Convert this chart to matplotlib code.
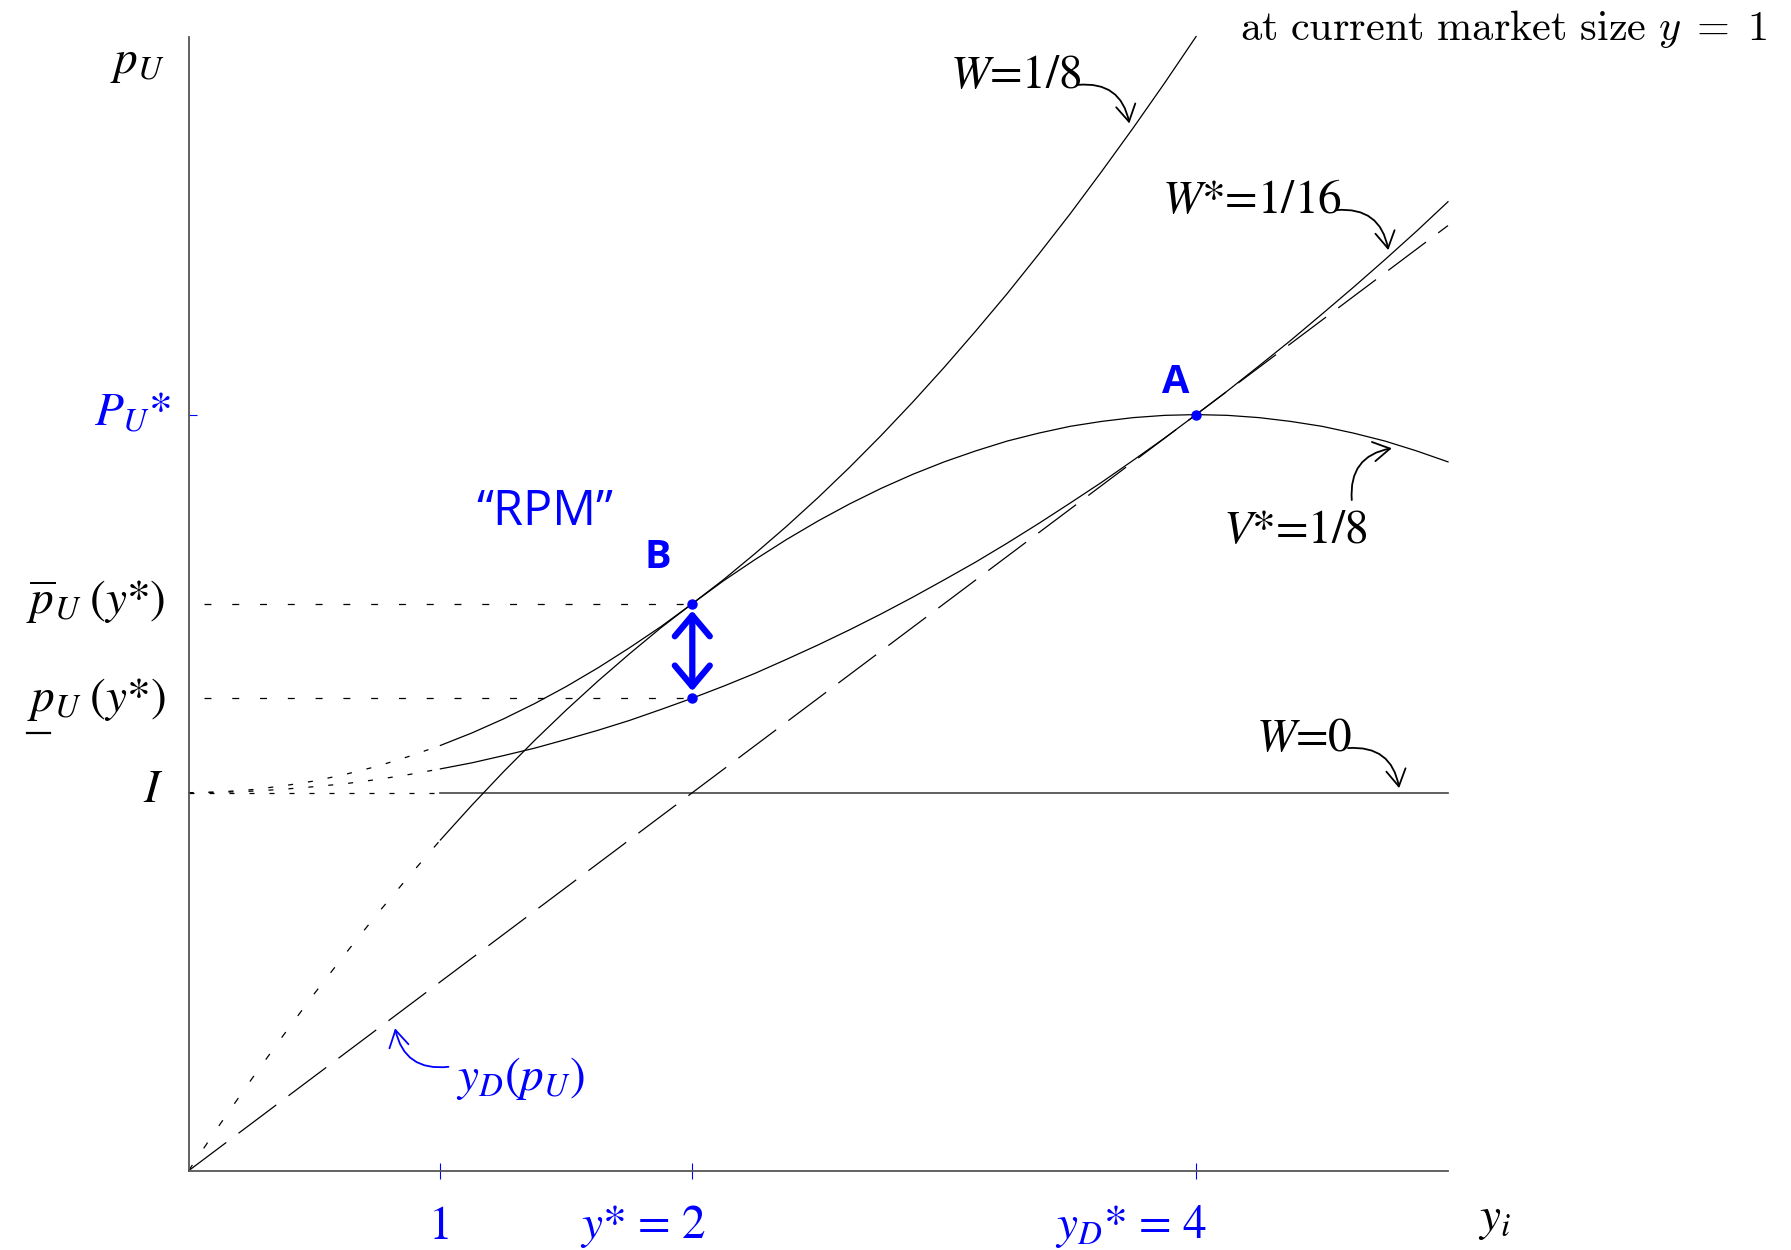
import matplotlib.pyplot as plt

plt.rcParams['mathtext.fontset'] = 'stix'
plt.rcParams['lines.scale_dashes'] = False

BLUE = '#0000ff'
SERIF = 'STIXGeneral'
SANS = 'Open Sans'
FS = 34

# market size y_i: dotted stretch up to y = 1, solid beyond
y_left = [0.0, 0.125, 0.25, 0.375, 0.5, 0.625, 0.75, 0.875, 1.0]
y_right = [1.0, 1.125, 1.25, 1.375, 1.5, 1.625, 1.75, 1.875,
           2.0, 2.125, 2.25, 2.375, 2.5, 2.625, 2.75, 2.875,
           3.0, 3.125, 3.25, 3.375, 3.5, 3.625, 3.75, 3.875,
           4.0, 4.125, 4.25, 4.375, 4.5, 4.625, 4.75, 4.875, 5.0]

# iso curves in (y_i, p_U)
w8_left = [1.0, 1.002, 1.008, 1.018, 1.031, 1.049, 1.070, 1.096, 1.125]
w8_right = [1.125, 1.158, 1.195, 1.236, 1.281, 1.330, 1.383, 1.439,
            1.5, 1.564, 1.633, 1.705, 1.781, 1.861, 1.945, 2.033,
            2.125, 2.221, 2.320, 2.424, 2.531, 2.643, 2.758, 2.877, 3.0]
w16_left = [1.0, 1.001, 1.004, 1.009, 1.016, 1.024, 1.035, 1.048, 1.063]
w16_right = [1.063, 1.079, 1.098, 1.118, 1.141, 1.165, 1.191, 1.220,
             1.25, 1.282, 1.316, 1.353, 1.391, 1.431, 1.473, 1.517,
             1.563, 1.610, 1.660, 1.712, 1.766, 1.821, 1.879, 1.938,
             2.0, 2.063, 2.129, 2.196, 2.266, 2.337, 2.410, 2.485, 2.563]
v8_left = [0.0, 0.123, 0.242, 0.357, 0.469, 0.576, 0.680, 0.779, 0.875]
v8_right = [0.875, 0.967, 1.055, 1.139, 1.219, 1.295, 1.367, 1.436,
            1.5, 1.561, 1.617, 1.670, 1.719, 1.764, 1.805, 1.842,
            1.875, 1.904, 1.930, 1.951, 1.969, 1.982, 1.992, 1.998,
            2.0, 1.998, 1.992, 1.982, 1.969, 1.951, 1.930, 1.904, 1.875]

# downstream demand y_D(p_U)
yd_y = [0.0, 5.0]
yd_p = [0.0, 2.5]

I_LEVEL = 1.0
Y_ONE = 1.0
Y_STAR = 2.0
YD_STAR = 4.0
P_BAR = 1.5
P_LOW = 1.25
P_STAR = 2.0


def curlyArrow(Tail_Xy, Tip_Xy, Color='black'):
    ax.annotate('', xy=Tip_Xy, xytext=Tail_Xy, annotation_clip=False,
                arrowprops=dict(arrowstyle='->,head_length=0.6,head_width=0.35',
                                connectionstyle='arc3,rad=-0.45',
                                color=Color, lw=1.3, mutation_scale=20,
                                shrinkA=0, shrinkB=0))


fig = plt.figure(figsize=(17.91, 12.5), dpi=100)
ax = fig.add_axes([0.10525, 0.06336, 0.70324, 0.90744])
ax.set_xlim(0, 5)
ax.set_ylim(0, 3)
for side in ['top', 'right']:
    ax.spines[side].set_visible(False)
for side in ['left', 'bottom']:
    ax.spines[side].set_color('#555555')
    ax.spines[side].set_linewidth(1.3)
ax.set_xticks([Y_ONE, Y_STAR, YD_STAR])
ax.set_xticklabels(['', '', ''])
ax.set_yticks([P_STAR])
ax.set_yticklabels([''])
ax.tick_params(axis='x', direction='inout', length=11, width=0.8, color=BLUE)
ax.tick_params(axis='y', direction='in', length=6, width=0.8, color=BLUE)

short_dots = (0, (3.6, 10.8))
sparse_dots = (0, (5, 14.5))
guide_dash = (0, (5, 15))
long_dash = (0, (34, 11))

# W = 0 : the I level
ax.plot([0, Y_ONE], [I_LEVEL, I_LEVEL], color='black', lw=0.9, ls=short_dots)
ax.plot([Y_ONE, 5], [I_LEVEL, I_LEVEL], color='#444444', lw=1.2)

# W = 1/8
ax.plot(y_left, w8_left, color='black', lw=0.9, ls=short_dots)
ax.plot(y_right[:len(w8_right)], w8_right, color='black', lw=0.9)

# W* = 1/16
ax.plot(y_left, w16_left, color='black', lw=0.9, ls=short_dots)
ax.plot(y_right, w16_right, color='black', lw=0.9)

# V* = 1/8
ax.plot(y_left, v8_left, color='black', lw=0.9, ls=sparse_dots)
ax.plot(y_right, v8_right, color='black', lw=0.9)

# y_D(p_U)
ax.plot(yd_y, yd_p, color='black', lw=0.9, ls=long_dash)

# price guides at y*
ax.plot([0.06, Y_STAR], [P_BAR, P_BAR], color='black', lw=0.9, ls=guide_dash)
ax.plot([0.06, Y_STAR], [P_LOW, P_LOW], color='black', lw=0.9, ls=guide_dash)

for line in ax.lines:
    line.set_clip_on(False)
    line.set_solid_joinstyle('round')

# points A and B and the RPM range
ax.annotate('', xy=(Y_STAR, P_LOW), xytext=(Y_STAR, P_BAR),
            arrowprops=dict(arrowstyle='<->,head_length=0.5,head_width=0.42',
                            color=BLUE, lw=4.5, mutation_scale=30,
                            shrinkA=5, shrinkB=5, capstyle='round',
                            joinstyle='round'))
ax.plot([Y_STAR, Y_STAR, YD_STAR], [P_BAR, P_LOW, P_STAR], 'o', color=BLUE,
        ms=6.5, clip_on=False, zorder=5)
ax.text(1.862, 1.594, 'B', color=BLUE, fontsize=28.5, fontweight='bold',
        family=SANS, ha='center', va='baseline')
ax.text(3.918, 2.058, 'A', color=BLUE, fontsize=28.5, fontweight='bold',
        family=SANS, ha='center', va='baseline')
ax.text(1.415, 1.707, '\u201cRPM\u201d', color=BLUE, fontsize=35,
        family=SANS, ha='center', va='baseline')

# curve labels
ax.text(3.023, 2.864, '$W$=1/8', fontsize=FS, family=SERIF, va='baseline')
curlyArrow((3.530, 2.872), (3.735, 2.770))
ax.text(3.863, 2.534, '$W$*=1/16', fontsize=FS, family=SERIF, va='baseline')
curlyArrow((4.557, 2.541), (4.763, 2.435))
ax.text(4.108, 1.660, '$V$*=1/8', fontsize=FS, family=SERIF, va='baseline')
curlyArrow((4.618, 1.774), (4.777, 1.911))
ax.text(4.238, 1.109, '$W$=0', fontsize=FS, family=SERIF, va='baseline')
curlyArrow((4.603, 1.118), (4.806, 1.012))
ax.text(1.063, 0.214, '$y_D(p_U)$', fontsize=FS, family=SERIF, color=BLUE,
        va='baseline')
curlyArrow((1.032, 0.275), (0.820, 0.377), Color=BLUE)

# axis labels
ax.text(-0.093, 2.903, '$p_U$', fontsize=FS, family=SERIF, ha='right',
        va='baseline')
ax.text(5.12, -0.157, '$y_i$', fontsize=FS, family=SERIF, ha='left',
        va='baseline')
ax.text(-0.069, 1.972, '$P_U$*', fontsize=FS, family=SERIF, color=BLUE,
        ha='right', va='baseline')
ax.text(-0.093, 1.472, r'$\overline{p}_U\;(y$*)', fontsize=FS, family=SERIF,
        ha='right', va='baseline')
lbl_low = ax.text(-0.089, 1.216, r'$p_U\;(y$*)', fontsize=FS, family=SERIF,
                  ha='right', va='baseline')
ax.text(-0.10, 0.976, '$I$', fontsize=FS, family=SERIF, ha='right',
        va='baseline')
ax.text(Y_ONE, -0.18, '1', fontsize=FS, family=SERIF, color=BLUE,
        ha='center', va='baseline')
ax.text(2.055, -0.178, '$y$* = 2', fontsize=FS, family=SERIF, color=BLUE,
        ha='right', va='baseline')
ax.text(4.043, -0.178, '$y_D$* = 4', fontsize=FS, family=SERIF, color=BLUE,
        ha='right', va='baseline')

ax.text(6.266, 2.99, r'$\mathrm{at\ current\ market\ size}\ y\;=\;1$',
        fontsize=30.5, math_fontfamily='cm', ha='right', va='baseline')

# underline the p of the lower price label
fig.canvas.draw()
bb = lbl_low.get_window_extent()
x0 = ax.transData.inverted().transform((bb.x0, 0))[0]
x1 = ax.transData.inverted().transform((bb.x0 + 23, 0))[0]
ax.plot([x0, x1], [1.159, 1.159], color='black', lw=1.6, clip_on=False)

fig.savefig('out.png', dpi=100)
